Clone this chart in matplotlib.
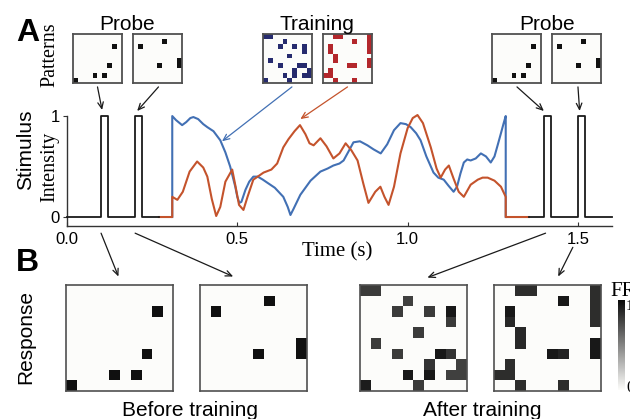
import numpy as np
import matplotlib
matplotlib.use("Agg")
import matplotlib.pyplot as plt
from matplotlib.colors import LinearSegmentedColormap, ListedColormap
from matplotlib.patches import ConnectionPatch

W, H = 630, 419
SANS = "Liberation Sans"
SERIF = "Liberation Serif"

# training stimulus traces (time in s, normalised intensity)
blue_t = [0.309, 0.309, 0.32, 0.338, 0.35, 0.362, 0.371, 0.385, 0.40, 0.412, 0.43, 0.45,
          0.465, 0.479, 0.494, 0.50, 0.506, 0.512, 0.524, 0.535, 0.547, 0.56, 0.575,
          0.588, 0.61, 0.635, 0.648, 0.656, 0.665, 0.685, 0.715, 0.744, 0.765, 0.782,
          0.80, 0.812, 0.825, 0.841, 0.86, 0.882, 0.90, 0.921, 0.94, 0.96, 0.979,
          0.995, 1.009, 1.025, 1.038, 1.055, 1.076, 1.09, 1.106, 1.12, 1.135, 1.145,
          1.155, 1.165, 1.175, 1.185, 1.20, 1.215, 1.23, 1.244, 1.255, 1.265, 1.274,
          1.282, 1.288, 1.288]
blue_v = [0.0, 1.00, 0.96, 0.91, 0.94, 0.98, 0.99, 0.97, 0.92, 0.89, 0.85, 0.76,
          0.64, 0.50, 0.30, 0.20, 0.14, 0.15, 0.27, 0.35, 0.40, 0.40, 0.37,
          0.34, 0.29, 0.20, 0.10, 0.02, 0.08, 0.22, 0.36, 0.45, 0.48, 0.51,
          0.53, 0.56, 0.64, 0.74, 0.75, 0.71, 0.67, 0.63, 0.72, 0.86, 0.93,
          0.92, 0.89, 0.83, 0.76, 0.60, 0.44, 0.39, 0.37, 0.31, 0.25, 0.30,
          0.43, 0.54, 0.57, 0.56, 0.58, 0.63, 0.60, 0.54, 0.60, 0.72, 0.83,
          0.93, 1.00, 0.0]

red_t = [0.27, 0.309, 0.309, 0.324, 0.34, 0.36, 0.382, 0.40, 0.412, 0.425, 0.438, 0.45,
         0.465, 0.485, 0.495, 0.505, 0.518, 0.53, 0.547, 0.577, 0.60, 0.617, 0.635,
         0.65, 0.668, 0.684, 0.70, 0.712, 0.724, 0.744, 0.762, 0.782, 0.80, 0.818,
         0.835, 0.853, 0.87, 0.885, 0.905, 0.92, 0.932, 0.944, 0.96, 0.979, 1.0,
         1.015, 1.029, 1.045, 1.068, 1.085, 1.097, 1.11, 1.121, 1.135, 1.15, 1.165,
         1.185, 1.206, 1.22, 1.235, 1.255, 1.274, 1.288, 1.288, 1.356]
red_v = [0.0, 0.0, 0.20, 0.17, 0.25, 0.45, 0.55, 0.49, 0.40, 0.18, 0.01, 0.10,
         0.35, 0.47, 0.30, 0.12, 0.07, 0.20, 0.37, 0.44, 0.47, 0.53, 0.69,
         0.77, 0.85, 0.91, 0.82, 0.73, 0.71, 0.78, 0.70, 0.58, 0.63, 0.73,
         0.66, 0.56, 0.33, 0.14, 0.25, 0.30, 0.20, 0.12, 0.30, 0.63, 0.88,
         0.98, 1.01, 0.93, 0.69, 0.48, 0.39, 0.47, 0.51, 0.38, 0.25, 0.20,
         0.32, 0.37, 0.39, 0.39, 0.36, 0.30, 0.20, 0.0, 0.0]

# probe pulses
probe_onsets_before = [0.10, 0.20]
probe_onsets_after = [1.40, 1.50]
probe_width = 0.02
baseline_before = (0.0, 0.27)
baseline_after = (1.356, 1.6)

# active cells (row, col) of the probe patterns
probe_a = [(2, 8), (6, 7), (8, 4), (8, 6), (9, 0)]
probe_b = [(1, 6), (2, 1), (5, 9), (6, 9), (6, 5)]

# firing rates after training: (row, col, FR)
resp_a_after = [(0, 0, 0.82), (0, 1, 0.82), (1, 4, 0.80), (2, 3, 0.82), (2, 6, 0.82),
                (2, 8, 0.97), (3, 8, 0.82), (4, 5, 0.82), (5, 1, 0.82), (6, 3, 0.82),
                (6, 7, 0.97), (6, 8, 0.85), (7, 6, 0.85), (7, 9, 0.80), (8, 4, 0.97),
                (8, 6, 0.97), (8, 8, 0.80), (8, 9, 0.80), (9, 0, 0.95), (9, 5, 0.82)]
resp_b_after = [(0, 2, 0.88), (0, 3, 0.88), (0, 9, 0.88), (1, 9, 0.88), (2, 9, 0.88),
                (3, 9, 0.88), (1, 6, 0.97), (2, 1, 0.97), (3, 1, 0.90), (4, 2, 0.90),
                (5, 2, 0.90), (5, 9, 0.97), (6, 9, 0.97), (6, 5, 0.97), (6, 6, 0.92),
                (7, 1, 0.88), (8, 0, 0.88), (8, 1, 0.88), (9, 2, 0.88), (9, 6, 0.88)]

# training patterns are the stored ones
train_a = [(r, c) for r, c, _ in resp_a_after]
train_b = [(r, c) for r, c, _ in resp_b_after]

C_BLUE = "#4270b4"
C_RED = "#c4532c"
C_NAVY = "#262b6e"
C_CRIMSON = "#b3272c"
C_EDGE = "#505050"
PAPER = "#fcfcfa"
ARROW = "->,head_length=0.45,head_width=0.2"


def px_axes(fig, x0, y0, x1, y1):
    return fig.add_axes([x0 / W, 1 - y1 / H, (x1 - x0) / W, (y1 - y0) / H])


def ftext(fig, x, y, s, **kw):
    fig.text(x / W, 1 - y / H, s, **kw)


def grid_from(cells, n=10):
    g = np.zeros((n, n))
    for cell in cells:
        if len(cell) == 3:
            g[cell[0], cell[1]] = cell[2]
        else:
            g[cell[0], cell[1]] = 1.0
    return g


def pattern_box(ax, grid, cmap, lw=1.3):
    ax.imshow(grid, cmap=cmap, vmin=0, vmax=1, extent=(0, 10, 10, 0),
              interpolation="nearest", aspect="auto")
    ax.set_xticks([])
    ax.set_yticks([])
    for s in ax.spines.values():
        s.set_color(C_EDGE)
        s.set_linewidth(lw)


def pulse_trace(t0, t1, onsets, width):
    xs, ys = [t0], [0.0]
    for on in onsets:
        xs += [on, on, on + width, on + width]
        ys += [0.0, 1.0, 1.0, 0.0]
    xs.append(t1)
    ys.append(0.0)
    return xs, ys


fig = plt.figure(figsize=(W / 100, H / 100), dpi=100)

# ---- stimulus panel ----
ax = px_axes(fig, 67, 111, 612, 226)
ax.set_xlim(0, 1.6)
ax.set_ylim(-0.089, 1.05)
ax.plot(blue_t, blue_v, color=C_BLUE, lw=1.5, solid_joinstyle="round", zorder=3)
ax.plot(red_t, red_v, color=C_RED, lw=1.5, solid_joinstyle="round", zorder=4)
for t0, t1, ons in [(baseline_before[0], baseline_before[1], probe_onsets_before),
                    (baseline_after[0], baseline_after[1], probe_onsets_after)]:
    xs, ys = pulse_trace(t0, t1, ons, probe_width)
    ax.plot(xs, ys, color="#1a1a1a", lw=1.3, zorder=5, clip_on=False)
for side in ["top", "right"]:
    ax.spines[side].set_visible(False)
for side in ["left", "bottom"]:
    ax.spines[side].set_color("#333333")
    ax.spines[side].set_linewidth(1.0)
ax.spines["left"].set_bounds(-0.089, 1.0)
ax.set_xticks([0.0, 0.5, 1.0, 1.5])
ax.set_xticklabels(["0.0", "0.5", "1.0", "1.5"], fontsize=12, family=SANS)
ax.set_yticks([0, 1])
ax.set_yticklabels(["0", "1"], fontsize=12, family=SANS)
ax.tick_params(axis="x", direction="in", length=3, pad=4, color="#333333")
ax.tick_params(axis="y", direction="out", length=3, pad=2, color="#333333")
ax.patch.set_alpha(0)

ftext(fig, 337, 252, "Time (s)", fontsize=15, family=SERIF, ha="center", va="center")
ftext(fig, 26, 150, "Stimulus", fontsize=15, family=SANS, rotation=90, ha="center", va="center")
ftext(fig, 50, 167, "Intensity", fontsize=14.5, family=SERIF, rotation=90, ha="center", va="center")
ftext(fig, 50, 55, "Patterns", fontsize=14.5, family=SERIF, rotation=90, ha="center", va="center")
ftext(fig, 28, 33, "A", fontsize=23, family=SANS, weight="bold", ha="center", va="center")
ftext(fig, 27, 263, "B", fontsize=23, family=SANS, weight="bold", ha="center", va="center")

# ---- input patterns ----
cm_black = ListedColormap([PAPER, "#111111"])
cm_navy = ListedColormap([PAPER, C_NAVY])
cm_red = ListedColormap([PAPER, C_CRIMSON])

top_boxes = [(73, probe_a, cm_black), (133, probe_b, cm_black),
             (263, train_a, cm_navy), (323, train_b, cm_red),
             (492, probe_a, cm_black), (552, probe_b, cm_black)]
top_axes = []
for x0, cells, cm in top_boxes:
    a = px_axes(fig, x0, 34, x0 + 49, 83)
    pattern_box(a, grid_from(cells), cm)
    top_axes.append(a)

ftext(fig, 127, 24, "Probe", fontsize=15, family=SANS, ha="center", va="center")
ftext(fig, 317, 24, "Training", fontsize=15, family=SANS, ha="center", va="center")
ftext(fig, 547, 24, "Probe", fontsize=15, family=SANS, ha="center", va="center")

# arrows from patterns to the stimulus
arrow_targets = [(0.50, "#1a1a1a", (0.103, 1.06)), (0.52, "#1a1a1a", (0.206, 1.05)),
                 (0.59, C_BLUE, (0.455, 0.75)), (0.50, C_RED, (0.685, 0.97)),
                 (0.51, "#1a1a1a", (1.40, 1.05)), (0.53, "#1a1a1a", (1.505, 1.05))]
for a, (fx, col, xy) in zip(top_axes, arrow_targets):
    con = ConnectionPatch(xyA=(fx, -0.08), coordsA="axes fraction", axesA=a,
                          xyB=xy, coordsB="data", axesB=ax,
                          arrowstyle=ARROW, color=col, lw=0.9)
    con.set_annotation_clip(False)
    fig.add_artist(con)

# ---- responses ----
cm_fr = LinearSegmentedColormap.from_list("fr", [PAPER, "#0a0a0a"])
resp_boxes = [(66, grid_from(probe_a)), (200, grid_from(probe_b)),
              (360, grid_from(resp_a_after)), (494, grid_from(resp_b_after))]
resp_axes = []
for x0, g in resp_boxes:
    a = px_axes(fig, x0, 285, x0 + 107, 391)
    pattern_box(a, g * 0.97, cm_fr, lw=1.2)
    resp_axes.append(a)

# (time, level) where each arrow leaves the time axis, and where it lands
down_arrows = [((0.10, -0.16), (0.49, 1.08)), ((0.20, -0.16), (0.31, 1.08)),
               ((1.405, -0.16), (0.63, 1.07)), ((1.485, -0.30), (0.60, 1.08))]
for a, (start, xy) in zip(resp_axes, down_arrows):
    con = ConnectionPatch(xyA=start, coordsA="data", axesA=ax,
                          xyB=xy, coordsB="axes fraction", axesB=a,
                          arrowstyle=ARROW, color="#1a1a1a", lw=0.9)
    con.set_annotation_clip(False)
    fig.add_artist(con)

ftext(fig, 26, 337, "Response", fontsize=15, family=SANS, rotation=90, ha="center", va="center")
ftext(fig, 190, 410, "Before training", fontsize=15, family=SANS, ha="center", va="center")
ftext(fig, 482, 410, "After training", fontsize=15, family=SANS, ha="center", va="center")

# firing-rate colour bar
cax = px_axes(fig, 618, 300, 625, 390)
cax.imshow(np.linspace(1, 0, 100)[:, None], cmap=cm_fr, vmin=0, vmax=1,
           aspect="auto", extent=(0, 1, 0, 1))
cax.set_xticks([])
cax.set_yticks([])
for s in cax.spines.values():
    s.set_visible(False)
ftext(fig, 610, 291, "FR", fontsize=15, family=SERIF, ha="left", va="center")
ftext(fig, 626, 306, "1", fontsize=11, family=SERIF, ha="left", va="center")
ftext(fig, 626, 388, "0", fontsize=12, family=SERIF, ha="left", va="center")

fig.savefig("out.png", dpi=100, facecolor="white")
